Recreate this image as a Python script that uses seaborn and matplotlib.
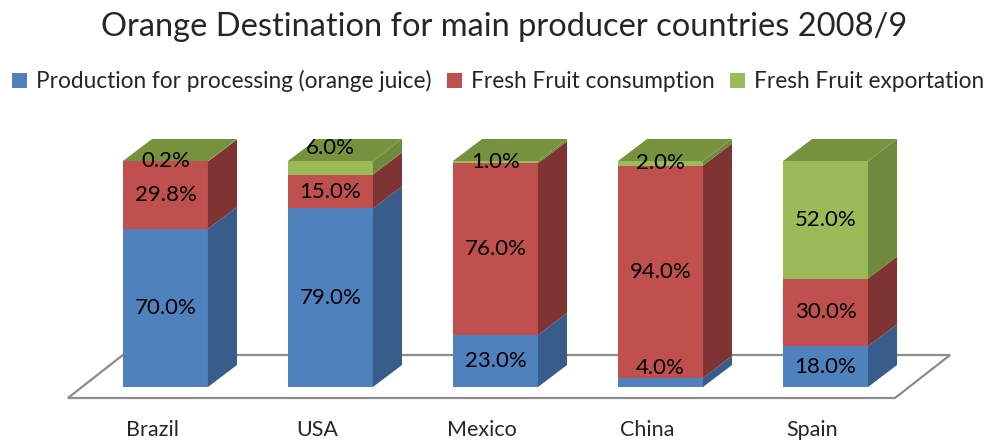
import matplotlib
matplotlib.use("Agg")
import matplotlib.pyplot as plt
import seaborn as sns
import numpy as np
import pandas as pd
from matplotlib.patches import Polygon, Patch

countries = ["Brazil", "USA", "Mexico", "China", "Spain"]
processing = [70.0, 79.0, 23.0, 4.0, 18.0]
fresh_consumption = [29.8, 15.0, 76.0, 94.0, 30.0]
fresh_export = [0.2, 6.0, 1.0, 2.0, 52.0]
series_names = ["Production for processing (orange juice)",
                "Fresh Fruit consumption", "Fresh Fruit exportation"]
title = "Orange Destination for main producer countries 2008/9"

front_cols = ["#4F81BD", "#C0504D", "#9BBB59"]
side_cols = ["#385D8A", "#7D3432", "#6F8A3C"]
top_cols = ["#4A77AE", "#A8413E", "#76923C"]

FONT = ["Lato", "DejaVu Sans"]
sns.set_theme(style="white")
plt.rcParams["font.family"] = FONT

fig = plt.figure(figsize=(9.92, 4.44), dpi=100)
ax = fig.add_axes([60/992, 40/444, 900/992, 280/444])

df = pd.DataFrame({"country": countries, "p": processing,
                   "c": fresh_consumption, "e": fresh_export})
df["cum1"] = df["p"]
df["cum2"] = df["p"] + df["c"]
df["cum3"] = df["p"] + df["c"] + df["e"]

W = 0.515
DX, DY = 0.176, 9.73

# floor
fy0, fy1 = -4.87, 14.16
floor = Polygon([(-0.591, fy0), (4.421, fy0), (4.755, fy1), (-0.258, fy1)],
                closed=True, facecolor="white", edgecolor="#8c8c8c", lw=1.6, zorder=0)
ax.add_patch(floor)

# front faces via seaborn (stacked by overlay)
for col, c in zip(["cum3", "cum2", "cum1"], front_cols[::-1]):
    sns.barplot(data=df, x="country", y=col, color=c, saturation=1, width=W,
                ax=ax, zorder=2, linewidth=0)

# side and top faces
for i in range(len(countries)):
    segs = [(0, df["cum1"][i], 0), (df["cum1"][i], df["cum2"][i], 1),
            (df["cum2"][i], df["cum3"][i], 2)]
    xr = i + W / 2
    for b, t, k in segs:
        if t - b <= 0:
            continue
        ax.add_patch(Polygon([(xr, b), (xr + DX, b + DY), (xr + DX, t + DY), (xr, t)],
                             closed=True, facecolor=side_cols[k], edgecolor="none", zorder=2))
    T = df["cum3"][i]
    ax.add_patch(Polygon([(i - W/2, T), (xr, T), (xr + DX, T + DY), (i - W/2 + DX, T + DY)],
                         closed=True, facecolor=top_cols[2], edgecolor="none", zorder=2))

# labels
nudge = {(1, 2): 8.8, (3, 0): 6.2}
for i in range(len(countries)):
    vals = [processing[i], fresh_consumption[i], fresh_export[i]]
    base = 0
    for k, v in enumerate(vals):
        yc = base + v / 2 + nudge.get((i, k), 0)
        ax.text(i, yc, f"{v:.1f}%", ha="center", va="center", fontsize=16,
                color="black", zorder=5)
        base += v

for i, c in enumerate(countries):
    ax.text(i - 0.08, -19.0, c, ha="center", va="center", fontsize=15.5, zorder=5)

ax.set_xlim(-0.639, 4.815)
ax.set_ylim(-7.52, 116.37)
ax.set_axis_off()

fig.text(0.508, 1 - 27/444, title, ha="center", va="center", fontsize=23.5)

handles = [Patch(facecolor=c, edgecolor="none") for c in front_cols]
fig.legend(handles, series_names, loc="center", bbox_to_anchor=(0.502, 1 - 81/444),
           ncol=3, frameon=False, fontsize=16.3, handlelength=0.65, handleheight=0.65,
           handletextpad=0.4, columnspacing=0.7, borderpad=0)

fig.savefig("out.png", dpi=100)
